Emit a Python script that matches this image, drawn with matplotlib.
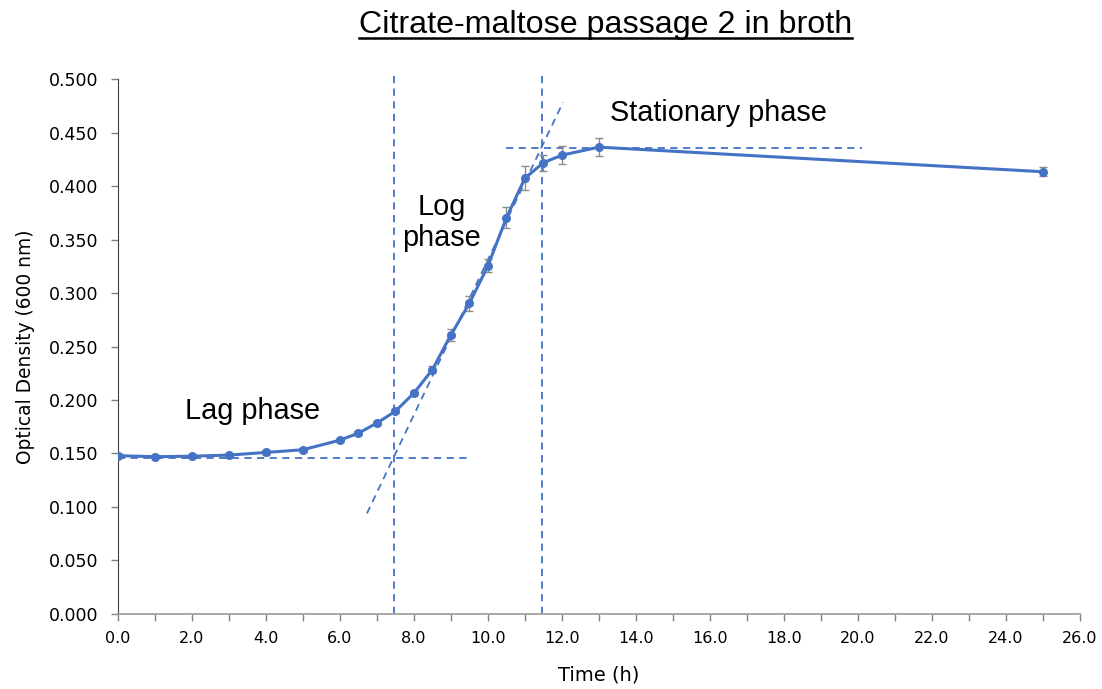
import matplotlib.pyplot as plt
from matplotlib.ticker import MultipleLocator, FormatStrFormatter
from matplotlib.lines import Line2D

# growth curve readings
time_h = [0, 1, 2, 3, 4, 5, 6, 6.5, 7, 7.5, 8, 8.5, 9, 9.5, 10, 10.5, 11, 11.5, 12, 13, 25]
od600 = [0.148, 0.147, 0.1475, 0.1485, 0.151, 0.1535, 0.1625, 0.169, 0.1785, 0.1895,
         0.2065, 0.2285, 0.261, 0.2905, 0.3255, 0.3705, 0.4075, 0.422, 0.429, 0.4365, 0.4135]
od_err = [0.002, 0.0015, 0.0015, 0.0015, 0.002, 0.002, 0.002, 0.002, 0.002, 0.002,
          0.002, 0.003, 0.0055, 0.007, 0.006, 0.010, 0.0115, 0.0075, 0.0085, 0.0085, 0.004]

# phase guide lines
lag_line_x = [0, 9.5]
lag_line_y = [0.1455, 0.1455]
stat_line_x = [10.5, 20.1]
stat_line_y = [0.4355, 0.4355]
tangent_x = [6.73, 12.03]
tangent_y = [0.094, 0.4785]
phase_bounds = [7.45, 11.45]

blue = "#4472C4"

fig = plt.figure(figsize=(11.02, 6.89), dpi=100)
ax = fig.add_axes([0.107, 0.109, 0.873, 0.776])

ax.errorbar(time_h, od600, yerr=od_err, color=blue, lw=2.2, marker="o", ms=5.5,
            ecolor="#8c8c8c", elinewidth=1, capsize=3, capthick=1, zorder=3)

dash = dict(color=blue, lw=1.3, ls=(0, (4, 3)), zorder=2)
ax.plot(lag_line_x, lag_line_y, **dash)
ax.plot(stat_line_x, stat_line_y, **dash)
ax.plot(tangent_x, tangent_y, **dash)
for b in phase_bounds:
    ax.plot([b, b], [0, 0.505], clip_on=False, **dash)

ax.text(1.8, 0.19, "Lag phase", fontsize=20.8, family="Liberation Sans", va="center")
ax.text(8.75, 0.366, "Log\nphase", fontsize=20.8, family="Liberation Sans", ha="center",
        va="center", linespacing=1.15)
ax.text(13.3, 0.4685, "Stationary phase", fontsize=20.8, family="Liberation Sans", va="center")

ax.set_xlim(0, 26)
ax.set_ylim(0, 0.5)
ax.xaxis.set_major_locator(MultipleLocator(2))
ax.xaxis.set_minor_locator(MultipleLocator(1))
ax.yaxis.set_major_locator(MultipleLocator(0.05))
ax.xaxis.set_major_formatter(FormatStrFormatter("%.1f"))
ax.yaxis.set_major_formatter(FormatStrFormatter("%.3f"))
ax.tick_params(axis="both", which="both", length=5, width=1, color="#808080")
ax.tick_params(axis="x", labelsize=11.5, pad=7)
ax.tick_params(axis="y", labelsize=12.5, pad=9)

for s in ["top", "right"]:
    ax.spines[s].set_visible(False)
ax.spines["left"].set_color("#404040")
ax.spines["bottom"].set_color("#a0a0a0")
ax.spines["bottom"].set_linewidth(1.3)

ax.set_xlabel("Time (h)", fontsize=14, labelpad=14)
ax.set_ylabel("Optical Density (600 nm)", fontsize=13.4, labelpad=10)

title = fig.text(0.5497, 0.964, "Citrate-maltose passage 2 in broth", fontsize=23.2,
                 family="Liberation Sans", ha="center", va="center")
fig.canvas.draw()
bb = title.get_window_extent(fig.canvas.get_renderer()).transformed(fig.transFigure.inverted())
fig.add_artist(Line2D([bb.x0, bb.x1], [bb.y0 + 0.002, bb.y0 + 0.002],
                      transform=fig.transFigure, color="black", lw=1.8))

fig.savefig("out.png", dpi=100)
